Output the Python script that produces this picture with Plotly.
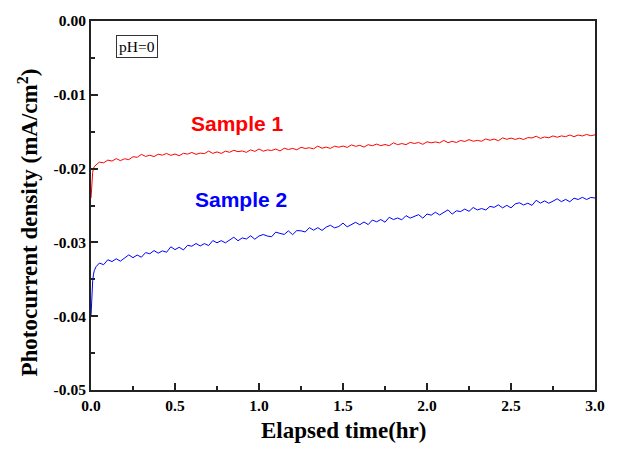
import plotly.graph_objects as go

# Elapsed time (hr)
time_hr = [0.0, 0.005, 0.01, 0.015, 0.02, 0.03, 0.04,
           0.05, 0.075, 0.1, 0.125, 0.15, 0.175, 0.2, 0.225, 0.25, 0.275,
           0.3, 0.325, 0.35, 0.375, 0.4, 0.425, 0.45, 0.475, 0.5, 0.525,
           0.55, 0.575, 0.6, 0.625, 0.65, 0.675, 0.7, 0.725, 0.75, 0.775,
           0.8, 0.825, 0.85, 0.875, 0.9, 0.925, 0.95, 0.975, 1.0, 1.025,
           1.05, 1.075, 1.1, 1.125, 1.15, 1.175, 1.2, 1.225, 1.25, 1.275,
           1.3, 1.325, 1.35, 1.375, 1.4, 1.425, 1.45, 1.475, 1.5, 1.525,
           1.55, 1.575, 1.6, 1.625, 1.65, 1.675, 1.7, 1.725, 1.75, 1.775,
           1.8, 1.825, 1.85, 1.875, 1.9, 1.925, 1.95, 1.975, 2.0, 2.025,
           2.05, 2.075, 2.1, 2.125, 2.15, 2.175, 2.2, 2.225, 2.25, 2.275,
           2.3, 2.325, 2.35, 2.375, 2.4, 2.425, 2.45, 2.475, 2.5, 2.525,
           2.55, 2.575, 2.6, 2.625, 2.65, 2.675, 2.7, 2.725, 2.75, 2.775,
           2.8, 2.825, 2.85, 2.875, 2.9, 2.925, 2.95, 2.975, 3.0]

# Photocurrent density (mA/cm^2), Sample 1
sample1 = [-0.0240, -0.0218, -0.0205, -0.0200, -0.0197, -0.0195, -0.0193,
           -0.01912, -0.01922, -0.01885, -0.01898, -0.01865, -0.01892, -0.01867, -0.01878, -0.01839, -0.01847,
           -0.01807, -0.01835, -0.01819, -0.01837, -0.01805, -0.01818, -0.01795, -0.01821, -0.01802, -0.01825,
           -0.01793, -0.01804, -0.01781, -0.01807, -0.01790, -0.01797, -0.01763, -0.01794, -0.01774, -0.01794,
           -0.01764, -0.01779, -0.01752, -0.01770, -0.01761, -0.01780, -0.01746, -0.01767, -0.01734, -0.01764,
           -0.01747, -0.01754, -0.01735, -0.01761, -0.01724, -0.01741, -0.01726, -0.01745, -0.01712, -0.01727,
           -0.01718, -0.01732, -0.01695, -0.01724, -0.01709, -0.01726, -0.01696, -0.01710, -0.01694, -0.01713,
           -0.01679, -0.01698, -0.01685, -0.01709, -0.01676, -0.01690, -0.01668, -0.01689, -0.01674, -0.01689,
           -0.01651, -0.01675, -0.01661, -0.01675, -0.01645, -0.01660, -0.01646, -0.01671, -0.01637, -0.01651,
           -0.01639, -0.01651, -0.01618, -0.01648, -0.01631, -0.01646, -0.01619, -0.01632, -0.01607, -0.01629,
           -0.01618, -0.01629, -0.01598, -0.01616, -0.01600, -0.01622, -0.01584, -0.01603, -0.01586, -0.01605,
           -0.01588, -0.01605, -0.01580, -0.01585, -0.01561, -0.01591, -0.01572, -0.01582, -0.01557, -0.01575,
           -0.01557, -0.01567, -0.01545, -0.01567, -0.01545, -0.01558, -0.01537, -0.01555, -0.01542]

# Photocurrent density (mA/cm^2), Sample 2
sample2 = [-0.0400, -0.0372, -0.0352, -0.0343, -0.0338, -0.0333, -0.0330,
           -0.03280, -0.03302, -0.03235, -0.03260, -0.03222, -0.03254, -0.03210, -0.03169, -0.03207, -0.03171,
           -0.03200, -0.03138, -0.03154, -0.03111, -0.03146, -0.03115, -0.03133, -0.03060, -0.03098, -0.03066,
           -0.03102, -0.03039, -0.03052, -0.03015, -0.03048, -0.03016, -0.03043, -0.02975, -0.03005, -0.02976,
           -0.03006, -0.02973, -0.02930, -0.02978, -0.02939, -0.02954, -0.02910, -0.02957, -0.02913, -0.02893,
           -0.02914, -0.02923, -0.02861, -0.02878, -0.02892, -0.02844, -0.02895, -0.02840, -0.02843, -0.02859,
           -0.02800, -0.02835, -0.02800, -0.02838, -0.02793, -0.02768, -0.02803, -0.02784, -0.02739, -0.02789,
           -0.02753, -0.02728, -0.02761, -0.02723, -0.02759, -0.02697, -0.02721, -0.02690, -0.02726, -0.02660,
           -0.02690, -0.02669, -0.02694, -0.02637, -0.02671, -0.02650, -0.02624, -0.02671, -0.02615, -0.02631,
           -0.02591, -0.02628, -0.02598, -0.02559, -0.02617, -0.02572, -0.02582, -0.02548, -0.02579, -0.02527,
           -0.02560, -0.02541, -0.02561, -0.02512, -0.02525, -0.02491, -0.02532, -0.02498, -0.02532, -0.02479,
           -0.02463, -0.02493, -0.02469, -0.02498, -0.02429, -0.02468, -0.02438, -0.02470, -0.02441, -0.02409,
           -0.02448, -0.02417, -0.02449, -0.02401, -0.02419, -0.02389, -0.02419, -0.02391, -0.02398]

x_tick_vals = [0.0, 0.5, 1.0, 1.5, 2.0, 2.5, 3.0]
x_tick_text = ["0.0", "0.5", "1.0", "1.5", "2.0", "2.5", "3.0"]
x_minor_vals = [0.25, 0.75, 1.25, 1.75, 2.25, 2.75]
y_tick_vals = [0.0, -0.01, -0.02, -0.03, -0.04, -0.05]
y_tick_text = ["0.00", "-0.01", "-0.02", "-0.03", "-0.04", "-0.05"]
y_minor_vals = [-0.005, -0.015, -0.025, -0.035, -0.045]

SERIF = "Liberation Serif, Times New Roman, serif"
SANS = "Liberation Sans, Arial, sans-serif"
AXIS_COLOR = "#222222"


def bold(labels):
    return ["<b>%s</b>" % s for s in labels]


fig = go.Figure()
fig.add_trace(go.Scatter(x=time_hr, y=sample1, mode="lines", name="Sample 1",
                         line=dict(color="#ff0000", width=1)))
fig.add_trace(go.Scatter(x=time_hr, y=sample2, mode="lines", name="Sample 2",
                         line=dict(color="#0000ff", width=1)))

axis_common = dict(
    showgrid=False, zeroline=False, showline=True, linecolor=AXIS_COLOR,
    linewidth=2, mirror=True, ticks="inside", ticklen=7, tickwidth=1.5,
    tickcolor=AXIS_COLOR,
    tickfont=dict(family=SERIF, size=15.5, color="black"),
)

fig.update_xaxes(range=[0, 3.0], tickmode="array", tickvals=x_tick_vals,
                 ticktext=bold(x_tick_text),
                 minor=dict(tickmode="array", tickvals=x_minor_vals,
                            ticks="inside", ticklen=4, tickwidth=1.5,
                            tickcolor=AXIS_COLOR),
                 **axis_common)
fig.update_yaxes(range=[-0.05, 0.0], tickmode="array", tickvals=y_tick_vals,
                 ticktext=bold(y_tick_text),
                 minor=dict(tickmode="array", tickvals=y_minor_vals,
                            ticks="inside", ticklen=4, tickwidth=1.5,
                            tickcolor=AXIS_COLOR),
                 **axis_common)

annotations = [
    dict(text="<b>Elapsed time(hr)</b>", x=0.5, y=-0.109, xref="paper", yref="paper",
         xanchor="center", yanchor="middle", showarrow=False,
         font=dict(family=SERIF, size=23, color="black")),
    dict(text="<b>Photocurrent density (mA/cm<sup>2</sup>)</b>", x=-0.125, y=0.454,
         xref="paper", yref="paper", xanchor="center", yanchor="middle",
         textangle=-90, showarrow=False,
         font=dict(family=SERIF, size=23, color="black")),
    dict(text="<b>Sample 1</b>", x=0.290, y=0.722, xref="paper", yref="paper",
         xanchor="center", yanchor="middle", showarrow=False,
         font=dict(family=SANS, size=21, color="#ff0000")),
    dict(text="<b>Sample 2</b>", x=0.297, y=0.516, xref="paper", yref="paper",
         xanchor="center", yanchor="middle", showarrow=False,
         font=dict(family=SANS, size=21, color="#0000ff")),
    dict(text="pH=0", x=0.092, y=0.931, xref="paper", yref="paper",
         xanchor="center", yanchor="middle", showarrow=False,
         bordercolor="#333333", borderwidth=1, borderpad=2, bgcolor="white",
         font=dict(family=SERIF, size=15.5, color="black")),
]

fig.update_layout(
    width=617, height=450,
    margin=dict(l=91, r=21, t=18, b=60),
    paper_bgcolor="white", plot_bgcolor="white",
    showlegend=False,
    annotations=annotations,
)

fig.write_html("out.html")
